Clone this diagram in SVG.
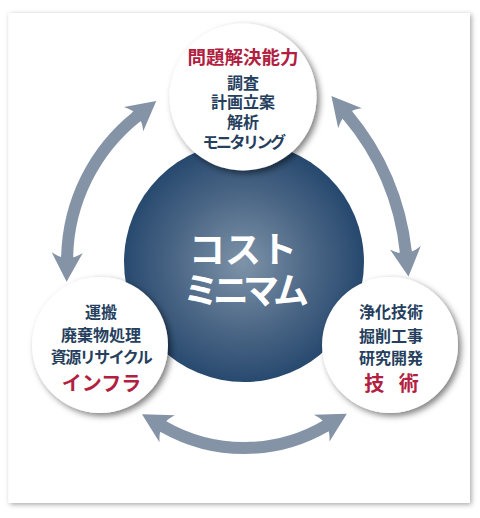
<svg xmlns="http://www.w3.org/2000/svg" width="480" height="518" viewBox="0 0 480 518">
<style>
  .t { font-family: "Noto Sans CJK JP", "Noto Sans", sans-serif; font-weight: 700; text-anchor: middle; }
  .body { font-size: 16px; fill: #263f5e; }
  .red { fill: #b2203f; }
  .core { font-size: 36px; fill: #ffffff; }
  .arrow { fill: none; stroke: #8493a6; stroke-width: 12; marker-start: url(#head); marker-end: url(#head); }
  .bubble { fill: #ffffff; filter: url(#circleShadow); }
</style>
<defs>
  <filter id="panelShadow" x="-5%" y="-5%" width="110%" height="110%">
    <feDropShadow dx="1.5" dy="1.5" stdDeviation="2.5" flood-color="#000" flood-opacity="0.35"/>
  </filter>
  <filter id="circleShadow" x="-20%" y="-20%" width="140%" height="140%">
    <feDropShadow dx="3" dy="3" stdDeviation="3" flood-color="#000" flood-opacity="0.5"/>
  </filter>
  <radialGradient id="coreGrad" cx="243" cy="263" r="122" gradientUnits="userSpaceOnUse">
    <stop offset="0" stop-color="#7d93a8"/>
    <stop offset="0.55" stop-color="#4c6786"/>
    <stop offset="1" stop-color="#26486e"/>
  </radialGradient>
  <marker id="head" markerUnits="userSpaceOnUse" markerWidth="40" markerHeight="40" viewBox="-10 -20 40 40" refX="0" refY="0" orient="auto-start-reverse" overflow="visible">
    <path d="M25,0 L-4,-15.5 Q0,-9 0.5,-6 L-1,-6 L-1,6 L0.5,6 Q0,9 -4,15.5 Z" fill="#8493a6"/>
  </marker>
</defs>

<rect x="0" y="0" width="480" height="518" fill="#ffffff"/>
<rect x="8.5" y="13" width="461.5" height="490" fill="#ffffff" filter="url(#panelShadow)"/>

<g id="core">
  <circle cx="244" cy="262" r="120" fill="url(#coreGrad)"/>
  <text class="t core" x="243" y="263">コスト</text>
  <text class="t core" x="243" y="304" letter-spacing="-6">ミニマム</text>
</g>

<g id="connectors">
  <path class="arrow" d="M136.7,116.6 A184.4,184.4 0 0 0 67.15,256.7"/>
  <path class="arrow" d="M347.5,115.2 A254.5,254.5 0 0 1 405.8,251.7"/>
  <path class="arrow" d="M163.7,426.7 A162,162 0 0 0 325.2,426.2"/>
</g>

<g id="problem-solving">
  <circle class="bubble" cx="243" cy="97" r="73.5"/>
  <text class="t red" x="243" y="63.7" font-size="18.5">問題解決能力</text>
  <text class="t body" x="243" y="89.4">調査</text>
  <text class="t body" x="243" y="108.3">計画立案</text>
  <text class="t body" x="243" y="127.8">解析</text>
  <text class="t body" x="243" y="147.8" letter-spacing="-2.5">モニタリング</text>
</g>

<g id="infrastructure">
  <circle class="bubble" cx="100" cy="345" r="68"/>
  <text class="t body" x="101" y="317.8">運搬</text>
  <text class="t body" x="101" y="341.1">廃棄物処理</text>
  <text class="t body" x="101" y="362.8" letter-spacing="-1.5">資源リサイクル</text>
  <text class="t red" x="101.5" y="390.6" font-size="20">インフラ</text>
</g>

<g id="technology">
  <circle class="bubble" cx="390" cy="345" r="68"/>
  <text class="t body" x="391" y="318.3">浄化技術</text>
  <text class="t body" x="391" y="341.6">掘削工事</text>
  <text class="t body" x="391" y="363.6">研究開発</text>
  <text class="t red" x="394" y="390.6" font-size="20" letter-spacing="5">技 術</text>
</g>
</svg>
